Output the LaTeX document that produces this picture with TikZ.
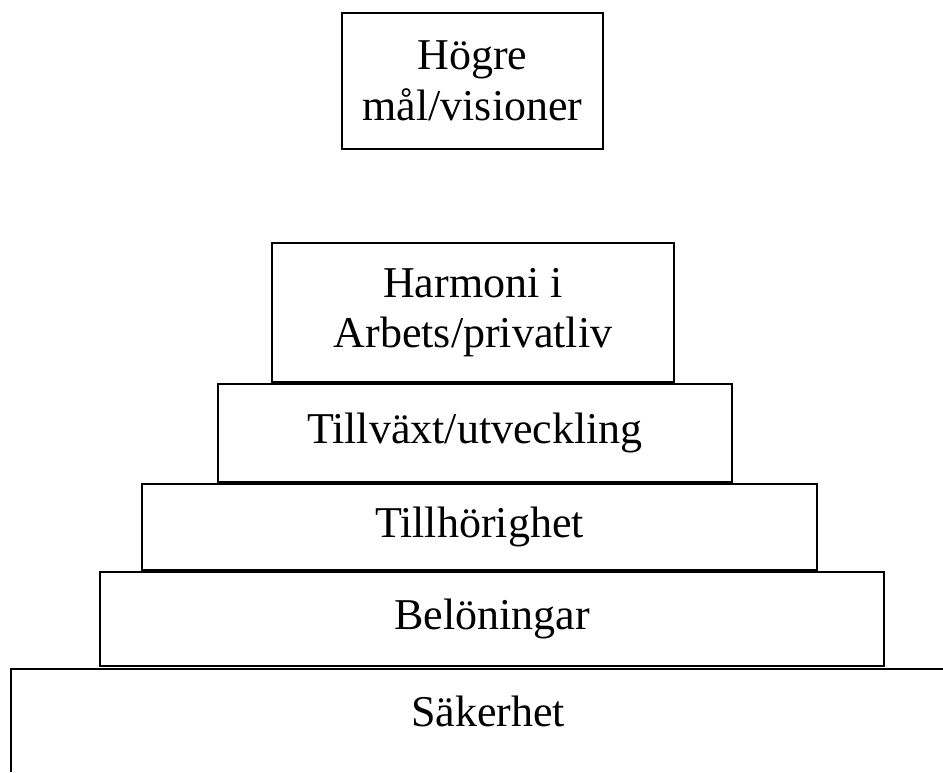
\documentclass[tikz,border=0pt]{standalone}
\usepackage{fontspec}
\setmainfont{Liberation Serif}
\begin{document}
\begin{tikzpicture}[x=1pt,y=-1pt,
  tier/.style={draw=black, line width=1.5pt, fill=white, rectangle, inner sep=0pt,
    align=center, font=\fontsize{44}{50.6}\selectfont},
  lbl/.style={inner sep=0pt, align=center, font=\fontsize{44}{50.6}\selectfont}]
\useasboundingbox (0,0) rectangle (943,772);
\node[tier, minimum width=261pt, minimum height=136pt] (visioner) at (472.5,81) {Högre\\mål/visioner};
\node[tier, minimum width=402pt, minimum height=139pt] (harmoni) at (473,312.5) {Harmoni i\\Arbets/privatliv};
\node[tier, minimum width=514pt, minimum height=98pt] (tillvaxt) at (475,433) {Tillväxt/utveckling};
\node[tier, minimum width=675pt, minimum height=86pt] (tillhor) at (479.5,527) {Tillhörighet};
\node[tier, minimum width=784pt, minimum height=94pt] (belon) at (492,619) {Belöningar};
\coordinate (sbl) at (11,772);
\coordinate (stl) at (11,669);
\coordinate (str) at (943,669);
\draw[line width=1.5pt] (sbl) -- (stl) -- (str);
\node[lbl] (saker) at (488,711) {Säkerhet};
\end{tikzpicture}
\end{document}
